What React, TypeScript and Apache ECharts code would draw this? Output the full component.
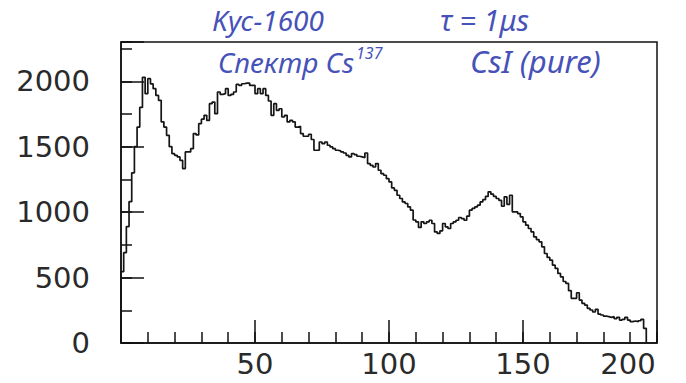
import React, { useEffect, useRef } from "react";
import * as echarts from "echarts";

// Histogram: bins of width 1 starting at 0 (channel number), counts per bin
const binLow = 0;
const binWidth = 1;
const counts = [
  545, 690, 890, 1080, 1300, 1500, 1650, 1800, 2030, 1905,
  2020, 1980, 1943, 1892, 1854, 1690, 1650, 1587, 1500, 1447,
  1434, 1422, 1396, 1333, 1460, 1460, 1485, 1600, 1590, 1676,
  1710, 1740, 1701, 1829, 1841, 1752, 1918, 1900, 1905, 1943,
  1892, 1900, 1918, 1976, 1968, 1981, 1986, 1986, 1968, 1968,
  1905, 1943, 1905, 1943, 1892, 1849, 1740, 1829, 1778, 1790,
  1727, 1740, 1689, 1701, 1689, 1650, 1655, 1600, 1580, 1580,
  1595, 1555, 1473, 1473, 1536, 1523, 1536, 1511, 1498, 1485,
  1473, 1468, 1460, 1452, 1434, 1422, 1447, 1440, 1427, 1422,
  1417, 1452, 1371, 1358, 1345, 1371, 1320, 1294, 1282, 1256,
  1231, 1185, 1167, 1129, 1104, 1078, 1066, 1040, 1015, 940,
  926, 883, 926, 913, 926, 938, 913, 849, 837, 857,
  913, 888, 875, 913, 926, 938, 959, 951, 938, 969,
  1015, 1028, 1040, 1053, 1078, 1095, 1120, 1155, 1137, 1120,
  1104, 1090, 1045, 1117, 1060, 1129, 1002, 1002, 989, 964,
  926, 900, 875, 849, 811, 790, 773, 735, 684, 654,
  633, 595, 570, 532, 506, 470, 455, 400, 341, 341,
  384, 328, 303, 290, 265, 252, 237, 257, 221, 214,
  206, 201, 196, 201, 186, 196, 175, 181, 196, 175,
  163, 168, 163, 170, 181, 112,
];

const xMajorStep = 50;
const xMinorStep = 10;
const yMajorStep = 500;
const yMinorStep = 250;
const xMax = 200;
const yMax = 2300;

const noteColor = "#4752b8";

export default function App() {
  const ref = useRef<HTMLDivElement>(null);
  useEffect(() => {
    if (!ref.current) return;
    const chart = echarts.init(ref.current, null, { renderer: "svg" });
    const histData: number[][] = [[binLow, 0]];
    counts.forEach((c, i) => histData.push([binLow + i * binWidth, c]));
    histData.push([binLow + counts.length * binWidth, 0]);

    const axisFont = {
      fontFamily: "DejaVu Sans",
      fontSize: 29,
      color: "#2a2a2a",
    };
    const note = {
      fontFamily: "Noto Sans",
      fontStyle: "italic",
      fill: noteColor,
    };

    chart.setOption({
      animation: false,
      backgroundColor: "#ffffff",
      grid: {
        left: 121,
        top: 42,
        width: 536,
        height: 301,
        show: true,
        borderColor: "#111",
        borderWidth: 1.5,
        backgroundColor: "transparent",
      },
      xAxis: [
        {
          type: "value",
          min: 0,
          max: xMax,
          interval: xMajorStep,
          axisLine: { show: true, onZero: false, lineStyle: { color: "#111", width: 1.5 } },
          axisTick: { show: true, inside: true, length: 23, lineStyle: { color: "#111", width: 1.5 } },
          splitLine: { show: false },
          axisLabel: {
            ...axisFont,
            margin: 6,
            formatter: (v: number) => (v === 0 ? "" : v === xMax ? "{r|" + v + "}" : String(v)),
            rich: { r: { ...axisFont, padding: [0, 58, 0, 0] } },
          },
        },
        {
          type: "value",
          min: 0,
          max: xMax,
          interval: xMinorStep,
          position: "bottom",
          axisLine: { show: false },
          axisTick: { show: true, inside: true, length: 11, lineStyle: { color: "#111", width: 1.5 } },
          axisLabel: { show: false },
          splitLine: { show: false },
        },
      ],
      yAxis: [
        {
          type: "value",
          min: 0,
          max: yMax,
          interval: yMajorStep,
          axisLine: { show: true, lineStyle: { color: "#111", width: 1.5 } },
          axisTick: { show: true, inside: true, length: 23, lineStyle: { color: "#111", width: 1.5 } },
          splitLine: { show: false },
          axisLabel: {
            ...axisFont,
            margin: 31,
            padding: [5, 0, 0, 0],
            formatter: (v: number) => (v % yMajorStep === 0 ? String(v) : ""),
          },
        },
        {
          type: "value",
          min: 0,
          max: yMax,
          interval: yMinorStep,
          position: "left",
          axisLine: { show: false },
          axisTick: { show: true, inside: true, length: 11, lineStyle: { color: "#111", width: 1.5 } },
          axisLabel: { show: false },
          splitLine: { show: false },
        },
      ],
      series: [
        {
          type: "line",
          step: "end",
          xAxisIndex: 0,
          yAxisIndex: 0,
          data: histData,
          showSymbol: false,
          symbol: "none",
          lineStyle: { color: "#151515", width: 1.7 },
        },
      ],
      graphic: [
        {
          type: "text",
          left: 212,
          top: 6,
          style: { ...note, text: "Kус-1600", fontSize: 28 },
        },
        {
          type: "text",
          left: 440,
          top: 5,
          style: { ...note, text: "τ = 1μs", fontSize: 29 },
        },
        {
          type: "text",
          left: 218,
          top: 45,
          style: {
            text: "{a|Спектр Cs}{s|137}",
            rich: {
              a: { ...note, fontSize: 28, color: noteColor },
              s: { ...note, fontSize: 16, color: noteColor, padding: [0, 0, 17, 2] },
            },
          },
        },
        {
          type: "text",
          left: 470,
          top: 45,
          style: { ...note, text: "CsI (pure)", fontSize: 31 },
        },
      ],
    });
    return () => chart.dispose();
  }, []);
  return (
    <div
      ref={ref}
      style={{ position: "fixed", left: 0, top: 0, width: 686, height: 383, background: "#fff" }}
    />
  );
}
